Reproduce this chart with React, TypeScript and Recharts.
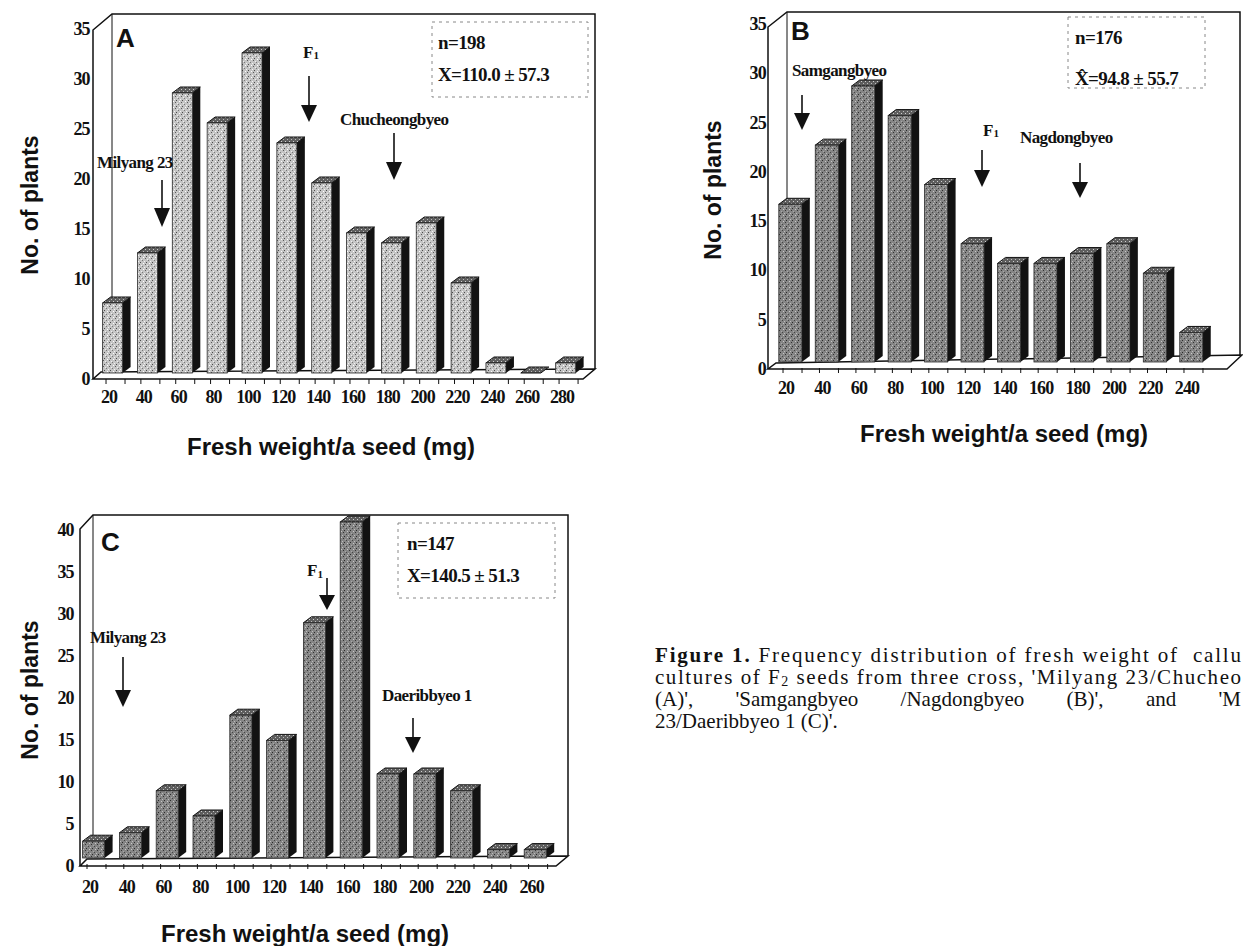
import React from 'react';
import { BarChart, Bar, XAxis, YAxis } from 'recharts';

// ---------- data ----------
const weightsA = ['20', '40', '60', '80', '100', '120', '140', '160', '180', '200', '220', '240', '260', '280'];
const plantsA = [7, 12, 28, 25, 32, 23, 19, 14, 13, 15, 9, 1, 0, 1];
const weightsB = ['20', '40', '60', '80', '100', '120', '140', '160', '180', '200', '220', '240'];
const plantsB = [16, 22, 28, 25, 18, 12, 10, 10, 11, 12, 9, 3];
const weightsC = ['20', '40', '60', '80', '100', '120', '140', '160', '180', '200', '220', '240', '260'];
const plantsC = [2, 3, 8, 5, 17, 14, 28, 40, 10, 10, 8, 1, 1];
const yTicksAB = [0, 5, 10, 15, 20, 25, 30, 35];
const yTicksC = [0, 5, 10, 15, 20, 25, 30, 35, 40];

const SERIF = '"Liberation Serif", "Times New Roman", serif';
const SANS = '"Liberation Sans", Arial, sans-serif';

const toRows = (w: string[], v: number[]) => w.map((c, i) => ({ w: c, n: v[i] }));

const make3DShape = (fill: string, dx: number, dy: number) => (props: any) => {
  const { x, y, width, height } = props;
  if (x == null || y == null) return <g />;
  const h = Math.max(0, height || 0);
  return (
    <g>
      <polygon
        points={`${x},${y} ${x + dx},${y - dy} ${x + width + dx},${y - dy} ${x + width},${y}`}
        fill="url(#speckTop)"
        stroke="#111"
        strokeWidth={1}
      />
      {h > 0 && (
        <polygon
          points={`${x + width},${y} ${x + width + dx},${y - dy} ${x + width + dx},${y + h - dy} ${x + width},${y + h}`}
          fill="#121212"
        />
      )}
      {h > 0 && <rect x={x} y={y} width={width} height={h} fill={fill} stroke="#2a2a2a" strokeWidth={0.8} />}
    </g>
  );
};

const makeYTick = (dy: number, dx: number) => (props: any) => {
  const { x, y, payload } = props;
  return (
    <text x={x + dx} y={y + dy} textAnchor="end" dominantBaseline="central" fontFamily={SERIF} fontWeight="bold" fontSize={18} letterSpacing={-0.9} fill="#111">
      {payload.value}
    </text>
  );
};

const makeXTick = (dy: number, dx: number) => (props: any) => {
  const { x, y, payload } = props;
  return (
    <g>
      <line x1={x - 7} x2={x - 7} y1={y + 6} y2={y + 11} stroke="#111" strokeWidth={1} />
      <line x1={x + 12} x2={x + 12} y1={y + 6} y2={y + 11} stroke="#111" strokeWidth={1} />
      <text x={x + dx} y={y + dy} textAnchor="middle" dominantBaseline="central" fontFamily={SERIF} fontWeight="bold" fontSize={18} letterSpacing={-0.9} fill="#111">
        {payload.value}
      </text>
    </g>
  );
};

type PanelCfg = {
  left: number;
  top: number;
  width: number;
  height: number;
  margin: { top: number; right: number; bottom: number; left: number };
  data: { w: string; n: number }[];
  yMax: number;
  yTicks: number[];
  barSize: number;
  fill: string;
  yDy: number;
  yDx: number;
  xDy: number;
};

const Panel = ({ cfg }: { cfg: PanelCfg }) => (
  <div style={{ position: 'absolute', left: cfg.left, top: cfg.top, width: cfg.width, height: cfg.height }}>
    <BarChart width={cfg.width} height={cfg.height} data={cfg.data} margin={cfg.margin} barCategoryGap={0}>
      <XAxis dataKey="w" height={30} axisLine={false} tickLine={false} tickSize={0} tickMargin={0} interval={0} tick={makeXTick(cfg.xDy, -4)} />
      <YAxis
        width={40}
        domain={[0, cfg.yMax]}
        ticks={cfg.yTicks}
        interval={0}
        axisLine={false}
        tickLine={false}
        tickSize={0}
        tickMargin={6}
        tick={makeYTick(cfg.yDy, cfg.yDx)}
      />
      <Bar dataKey="n" barSize={cfg.barSize} isAnimationActive={false} shape={make3DShape(cfg.fill, 8, 6)} />
    </BarChart>
  </div>
);

const cfgA: PanelCfg = {
  left: 0, top: 0, width: 620, height: 470,
  margin: { top: 23, right: 36.5, bottom: 67, left: 55.6 },
  data: toRows(weightsA, plantsA), yMax: 35, yTicks: yTicksAB, barSize: 20, fill: 'url(#speckLight)', yDy: 6, yDx: 0, xDy: 24,
};
const cfgB: PanelCfg = {
  left: 700, top: 0, width: 543, height: 460,
  margin: { top: 17, right: 33.8, bottom: 68, left: 31.8 },
  data: toRows(weightsB, plantsB), yMax: 35, yTicks: yTicksAB, barSize: 23, fill: 'url(#speckDark)', yDy: 7, yDx: 0, xDy: 26,
};
const cfgC: PanelCfg = {
  left: 0, top: 490, width: 620, height: 456,
  margin: { top: 32, right: 66, bottom: 58, left: 35.6 },
  data: toRows(weightsC, plantsC), yMax: 40, yTicks: yTicksC, barSize: 22, fill: 'url(#speckDark)', yDy: 8, yDx: 4, xDy: 29,
};

const Arrow = ({ x, y1, y2, y3 }: { x: number; y1: number; y2: number; y3: number }) => (
  <g>
    <line x1={x} x2={x} y1={y1} y2={y2} stroke="#111" strokeWidth={1.6} />
    <polygon points={`${x - 8},${y2} ${x + 8},${y2} ${x},${y3}`} fill="#111" />
  </g>
);

const lbl = { fontFamily: SERIF, fontWeight: 'bold' as const, fill: '#111' };

const Frames = () => (
  <svg width={1243} height={946} style={{ position: 'absolute', left: 0, top: 0 }}>
    <defs>
      <pattern id="speckLight" width="6" height="6" patternUnits="userSpaceOnUse">
        <rect width="6" height="6" fill="#c4c4c4" />
        <rect x="1" y="0" width="1" height="1" fill="#5a5a5a" />
        <rect x="4" y="2" width="1" height="1" fill="#777777" />
        <rect x="2" y="4" width="1" height="1" fill="#4a4a4a" />
        <rect x="5" y="5" width="1" height="1" fill="#ffffff" />
        <rect x="0" y="3" width="1" height="1" fill="#f4f4f4" />
        <rect x="3" y="1" width="1" height="1" fill="#eeeeee" />
      </pattern>
      <pattern id="speckDark" width="6" height="6" patternUnits="userSpaceOnUse">
        <rect width="6" height="6" fill="#858585" />
        <rect x="1" y="0" width="1" height="1" fill="#333333" />
        <rect x="4" y="2" width="1" height="1" fill="#444444" />
        <rect x="2" y="4" width="1" height="1" fill="#2a2a2a" />
        <rect x="5" y="5" width="1" height="1" fill="#c8c8c8" />
        <rect x="0" y="3" width="1" height="1" fill="#bdbdbd" />
        <rect x="3" y="1" width="1" height="1" fill="#a8a8a8" />
      </pattern>
      <pattern id="speckTop" width="4" height="4" patternUnits="userSpaceOnUse">
        <rect width="4" height="4" fill="#5e5e5e" />
        <rect x="1" y="1" width="1" height="1" fill="#d0d0d0" />
        <rect x="3" y="3" width="1" height="1" fill="#bbbbbb" />
      </pattern>
    </defs>
    <g fill="none" stroke="#111" strokeWidth={1.5}>
      {/* A */}
      <polyline points="93,379 93,30 112,14 595,14 595,369" />
      <line x1={112} y1={14} x2={112} y2={372} strokeWidth={1} />
      <polygon points="93,379 583,379 595,369 101,372" fill="#fff" />
      {/* B */}
      <polyline points="768,369 768,27 787,12 1240,12 1240,355" />
      <line x1={787} y1={12} x2={787} y2={363} strokeWidth={1} />
      <polygon points="768,369 1227,369 1242,355 776,363" fill="#fff" />
      {/* C */}
      <polyline points="80,866 80,529 93,515 568,515 568,856" />
      <line x1={93} y1={515} x2={93} y2={858} strokeWidth={1} />
      <polygon points="80,866 556,866 568,856 87,859" fill="#fff" />
    </g>
  </svg>
);

const Overlay = () => (
  <svg width={1243} height={946} style={{ position: 'absolute', left: 0, top: 0, pointerEvents: 'none' }}>
    {/* panel letters */}
    <text x={116} y={47} fontFamily={SANS} fontWeight="bold" fontSize={26} fill="#111">A</text>
    <text x={791} y={40} fontFamily={SANS} fontWeight="bold" fontSize={26} fill="#111">B</text>
    <text x={101} y={551} fontFamily={SANS} fontWeight="bold" fontSize={26} fill="#111">C</text>

    {/* stat boxes */}
    <rect x={432} y={22} width={156} height={75} fill="none" stroke="#888" strokeDasharray="3 4" strokeWidth={1} />
    <text x={438} y={42} dominantBaseline="central" fontSize={19} letterSpacing={-0.6} {...lbl}>n=198</text>
    <text x={438} y={74} dominantBaseline="central" fontSize={19} letterSpacing={-0.6} {...lbl}>X=110.0 ± 57.3</text>

    <rect x={1068} y={17} width={137} height={71} fill="none" stroke="#888" strokeDasharray="3 4" strokeWidth={1} />
    <text x={1075} y={37} dominantBaseline="central" fontSize={19} letterSpacing={-0.6} {...lbl}>n=176</text>
    <text x={1075} y={78} dominantBaseline="central" fontSize={19} letterSpacing={-0.6} {...lbl}>{'X\u0302=94.8 ± 55.7'}</text>

    <rect x={398} y={523} width={157} height={75} fill="none" stroke="#888" strokeDasharray="3 4" strokeWidth={1} />
    <text x={407} y={543} dominantBaseline="central" fontSize={19} letterSpacing={-0.6} {...lbl}>n=147</text>
    <text x={407} y={575} dominantBaseline="central" fontSize={19} letterSpacing={-0.6} {...lbl}>X=140.5 ± 51.3</text>

    {/* annotations A */}
    <text x={97} y={162} dominantBaseline="central" fontSize={17} letterSpacing={-0.6} {...lbl}>Milyang 23</text>
    <Arrow x={162} y1={180} y2={208} y3={227} />
    <text x={303} y={52} dominantBaseline="central" fontSize={17} {...lbl}>F<tspan fontSize={11} dy={3}>1</tspan></text>
    <Arrow x={309} y1={76} y2={105} y3={122} />
    <text x={340} y={119} dominantBaseline="central" fontSize={17} letterSpacing={-0.6} {...lbl}>Chucheongbyeo</text>
    <Arrow x={394} y1={133} y2={162} y3={180} />

    {/* annotations B */}
    <text x={792} y={70} dominantBaseline="central" fontSize={17} letterSpacing={-0.6} {...lbl}>Samgangbyeo</text>
    <Arrow x={802} y1={95} y2={113} y3={130} />
    <text x={983} y={130} dominantBaseline="central" fontSize={17} {...lbl}>F<tspan fontSize={11} dy={3}>1</tspan></text>
    <Arrow x={982} y1={150} y2={170} y3={187} />
    <text x={1020} y={137} dominantBaseline="central" fontSize={17} letterSpacing={-0.6} {...lbl}>Nagdongbyeo</text>
    <Arrow x={1080} y1={163} y2={182} y3={198} />

    {/* annotations C */}
    <text x={90} y={637} dominantBaseline="central" fontSize={17} letterSpacing={-0.6} {...lbl}>Milyang 23</text>
    <Arrow x={123} y1={657} y2={690} y3={707} />
    <text x={307} y={570} dominantBaseline="central" fontSize={17} {...lbl}>F<tspan fontSize={11} dy={4}>1</tspan></text>
    <Arrow x={327} y1={578} y2={595} y3={610} />
    <text x={382} y={695} dominantBaseline="central" fontSize={17} letterSpacing={-0.6} {...lbl}>Daeribbyeo 1</text>
    <Arrow x={413} y1={718} y2={737} y3={753} />

    {/* axis titles */}
    <text x={331} y={446} textAnchor="middle" dominantBaseline="central" fontFamily={SANS} fontWeight="bold" fontSize={24} fill="#111">Fresh weight/a seed (mg)</text>
    <text x={1004} y={433} textAnchor="middle" dominantBaseline="central" fontFamily={SANS} fontWeight="bold" fontSize={24} fill="#111">Fresh weight/a seed (mg)</text>
    <text x={305} y={933} textAnchor="middle" dominantBaseline="central" fontFamily={SANS} fontWeight="bold" fontSize={24} fill="#111">Fresh weight/a seed (mg)</text>
    <text transform="translate(30,205) rotate(-90)" textAnchor="middle" dominantBaseline="central" fontFamily={SANS} fontWeight="bold" fontSize={23} fill="#111">No. of plants</text>
    <text transform="translate(713,190) rotate(-90)" textAnchor="middle" dominantBaseline="central" fontFamily={SANS} fontWeight="bold" fontSize={23} fill="#111">No. of plants</text>
    <text transform="translate(30,690) rotate(-90)" textAnchor="middle" dominantBaseline="central" fontFamily={SANS} fontWeight="bold" fontSize={23} fill="#111">No. of plants</text>

    {/* caption */}
    <text x={655} y={655} dominantBaseline="central" fontFamily={SERIF} fontSize={21} fill="#111" textLength={586} lengthAdjust="spacing" style={{ whiteSpace: 'pre' }}>
      <tspan fontWeight="bold">Figure 1.</tspan> Frequency distribution of fresh weight of  callu
    </text>
    <text x={655} y={677} dominantBaseline="central" fontFamily={SERIF} fontSize={21} fill="#111" textLength={586} lengthAdjust="spacing" style={{ whiteSpace: 'pre' }}>
      cultures of F<tspan fontSize={14} dy={4}>2</tspan><tspan dy={-4}> seeds from three cross, 'Milyang 23/Chucheo</tspan>
    </text>
    <text x={655} y={721} dominantBaseline="central" fontFamily={SERIF} fontSize={21} fill="#111">23/Daeribbyeo 1 (C)'.</text>
  </svg>
);

const Caption3 = () => (
  <div
    style={{
      position: 'absolute',
      left: 655,
      top: 688,
      width: 586,
      height: 22,
      lineHeight: '22px',
      fontFamily: SERIF,
      fontSize: 21,
      color: '#111',
      whiteSpace: 'nowrap',
      textAlign: 'justify',
      textAlignLast: 'justify',
    }}
  >
    (A)', 'Samgangbyeo /Nagdongbyeo (B)', and 'M
  </div>
);

export default function App() {
  return (
    <div style={{ position: 'absolute', left: 0, top: 0, width: 1243, height: 946, overflow: 'hidden', background: '#fff' }}>
      <Frames />
      <Panel cfg={cfgA} />
      <Panel cfg={cfgB} />
      <Panel cfg={cfgC} />
      <Overlay />
      <Caption3 />
    </div>
  );
}
